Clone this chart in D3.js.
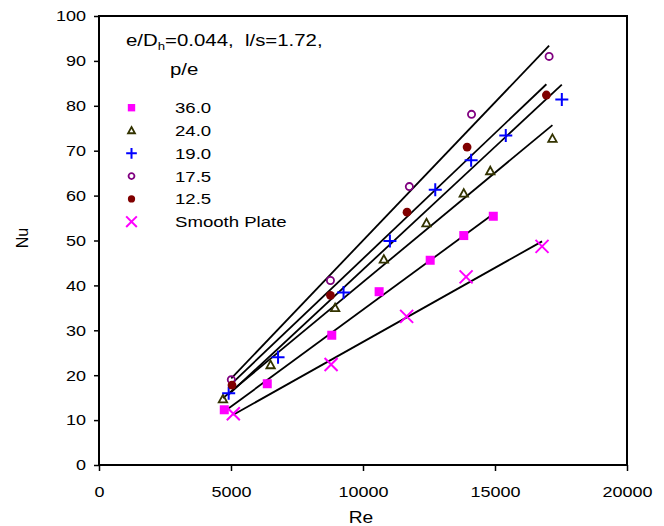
<!DOCTYPE html>
<html>
<head>
<meta charset="utf-8">
<script src="https://cdn.jsdelivr.net/npm/d3@7"></script>
<style>
  body { margin: 0; background: #fff; }
  svg { display: block; font-family: "Liberation Sans", Arial, sans-serif; }
</style>
</head>
<body>
<svg id="chart" width="664" height="526"></svg>
<script>
// series data (Re, Nu)
let pe360 = [[4745, 12.3], [6374, 18.1], [8817, 28.9], [10611, 38.6], [12545, 45.6], [13817, 51.1], [14935, 55.4]];
let pe240 = [[4695, 14.7], [6500, 22.3], [8944, 35.0], [10790, 45.8], [12405, 53.9], [13817, 60.5], [14821, 65.5], [17176, 72.7]];
let pe190 = [[4912, 16.0], [6782, 24.0], [9263, 38.4], [11019, 49.9], [12737, 61.3], [14096, 67.9], [15408, 73.4], [17531, 81.4]];
let pe175 = [[5012, 19.0], [8767, 41.1], [11756, 62.0], [14111, 78.1], [17050, 91.0]];
let pe125 = [[5038, 17.8], [8767, 37.8], [11668, 56.3], [13943, 70.8], [16947, 82.4]];
let smooth = [[5088, 11.4], [8791, 22.4], [11653, 33.1], [13905, 41.9], [16782, 48.7]];

// trend line end points (start, end)
let fit360 = [[4745, 11.9], [14935, 55.9]];
let fit240 = [[4695, 14.9], [17176, 75.7]];
let fit190 = [[4912, 15.7], [17531, 84.7]];
let fit175 = [[5012, 19.3], [17050, 93.4]];
let fit125 = [[5038, 18.2], [16947, 84.8]];
let fitSmooth = [[5088, 11.2], [16782, 49.8]];

let legendLabels = ['36.0', '24.0', '19.0', '17.5', '12.5', 'Smooth Plate'];
let xTicks = [0, 5000, 10000, 15000, 20000];
let yTicks = [0, 10, 20, 30, 40, 50, 60, 70, 80, 90, 100];

let series = [
  { label: legendLabels[0], pts: pe360, fit: fit360, shape: 'square' },
  { label: legendLabels[1], pts: pe240, fit: fit240, shape: 'triangle' },
  { label: legendLabels[2], pts: pe190, fit: fit190, shape: 'plus' },
  { label: legendLabels[3], pts: pe175, fit: fit175, shape: 'ocircle' },
  { label: legendLabels[4], pts: pe125, fit: fit125, shape: 'dot' },
  { label: legendLabels[5], pts: smooth, fit: fitSmooth, shape: 'cross' }
];

const SX = 1.2; // text in the figure is stretched sideways

let svg = d3.select('#chart');

let xScale = d3.scaleLinear().domain([0, 20000]).range([99, 627]);
let yScale = d3.scaleLinear().domain([0, 100]).range([465, 16]);

// stretched text helper
function stext(g, x, y, str, size, anchor) {
  return g.append('text')
    .attr('transform', `translate(${x},${y}) scale(${SX},1)`)
    .attr('font-size', size)
    .attr('text-anchor', anchor || 'start')
    .attr('fill', '#000')
    .text(str);
}

// draw a marker at (0,0) in group g
function marker(g, shape, big) {
  let k = big ? 1 : 0.82;
  if (shape === 'square') {
    let s = 9 * k;
    g.append('rect').attr('x', -s / 2).attr('y', -s / 2).attr('width', s).attr('height', s).attr('fill', '#ff00ff');
  } else if (shape === 'triangle') {
    let s = 4.2 * k;
    g.append('path')
      .attr('d', `M0,${-s} L${s},${s * 0.8} L${-s},${s * 0.8} Z`)
      .attr('fill', 'none').attr('stroke', '#333300').attr('stroke-width', 1.8);
  } else if (shape === 'plus') {
    let s = 6.5 * k;
    g.append('path').attr('d', `M${-s},0 H${s} M0,${-s} V${s}`)
      .attr('stroke', '#0000ff').attr('stroke-width', 2);
  } else if (shape === 'ocircle') {
    g.append('circle').attr('r', 3.6 * k).attr('fill', 'none')
      .attr('stroke', '#800080').attr('stroke-width', 1.8);
  } else if (shape === 'dot') {
    g.append('circle').attr('r', 4.4 * k).attr('fill', '#800000');
  } else if (shape === 'cross') {
    let s = 6.5 * k;
    g.append('path').attr('d', `M${-s},${-s} L${s},${s} M${-s},${s} L${s},${-s}`)
      .attr('stroke', '#ff00ff').attr('stroke-width', 2);
  }
}

////////////////////////////////AXES/////////////////
let xAxis = d3.axisBottom(xScale).tickValues(xTicks).tickSize(6).tickFormat(d3.format('d'));
let xAxisGroup = svg.append('g')
  .attr('transform', `translate(0, 465)`)
  .call(xAxis);

let yAxis = d3.axisLeft(yScale).tickValues(yTicks).tickSize(5).tickFormat(d3.format('d'));
let yAxisGroup = svg.append('g')
  .attr('transform', `translate(99, 0)`)
  .call(yAxis);

[xAxisGroup, yAxisGroup].forEach(g => {
  g.select('.domain').remove();
  g.selectAll('.tick line').attr('stroke', '#000').attr('stroke-width', 1.5);
  g.selectAll('.tick text')
    .attr('font-size', 15)
    .attr('font-family', '"Liberation Sans", Arial, sans-serif')
    .attr('fill', '#000');
});
xAxisGroup.selectAll('.tick text').attr('transform', `scale(${SX},1)`).attr('y', 21).attr('dy', '0.71em');
yAxisGroup.selectAll('.tick text').attr('transform', `scale(${SX},1)`).attr('x', -13 / SX);

// plot frame
svg.append('rect')
  .attr('x', xScale(0)).attr('y', yScale(100))
  .attr('width', xScale(20000) - xScale(0))
  .attr('height', yScale(0) - yScale(100))
  .attr('fill', 'none').attr('stroke', '#000').attr('stroke-width', 2);

// axis titles
stext(svg, 361, 523, 'Re', 16, 'middle');
svg.append('text')
  .attr('transform', `translate(27.5, 238) rotate(-90)`)
  .attr('font-size', 16)
  .attr('text-anchor', 'middle')
  .text('Nu');

////////////////////////////////TREND LINES/////////////////
let line = d3.line().x(d => xScale(d[0])).y(d => yScale(d[1]));
svg.append('g').selectAll('path')
  .data(series)
  .enter()
  .append('path')
  .attr('d', d => line(d.fit))
  .attr('fill', 'none')
  .attr('stroke', '#000')
  .attr('stroke-width', 1.8);

////////////////////////////////POINTS/////////////////
series.forEach(s => {
  svg.append('g').selectAll('g')
    .data(s.pts)
    .enter()
    .append('g')
    .attr('transform', d => `translate(${xScale(d[0])}, ${yScale(d[1])})`)
    .each(function () { marker(d3.select(this), s.shape, true); });
});

////////////////////////////////LEGEND/////////////////
let title = svg.append('text')
  .attr('transform', `translate(126, 46) scale(${SX},1)`)
  .attr('font-size', 17);
title.append('tspan').text('e/D');
title.append('tspan').attr('font-size', 11).attr('dy', 4).text('h');
title.append('tspan').attr('dy', -4).text('=0.044,\u00a0\u00a0l/s=1.72,');
stext(svg, 170, 75, 'p/e', 17);

let legend = svg.append('g');
series.forEach((s, i) => {
  let cy = 107.7 + i * 22.8;
  let m = legend.append('g').attr('transform', `translate(131.5, ${cy})`);
  marker(m, s.shape, false);
  stext(legend, 175, cy + 5.5, s.label, 15.5);
});
</script>
</body>
</html>
